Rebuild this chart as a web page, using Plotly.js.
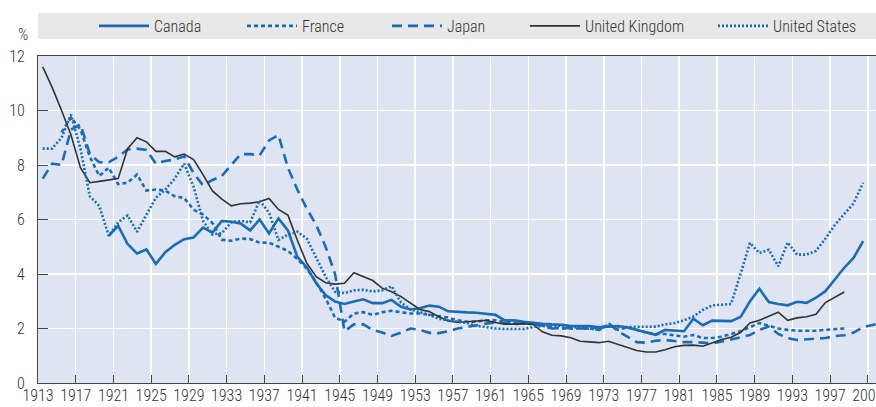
<!DOCTYPE html>
<html>
<head>
<meta charset="utf-8">
<script src="https://cdn.plot.ly/plotly-3.0.1.min.js"></script>
<style>html,body{margin:0;padding:0;background:#fff}#chart{width:876px;height:407px}</style>
</head>
<body>
<div id="chart"></div>
<script>
// ---- data ----
const seriesNames = ["Canada", "France", "Japan", "United Kingdom", "United States"];
const tickLabels = ["1913","1917","1921","1925","1929","1933","1937","1941","1945","1949","1953","1957","1961","1965","1969","1973","1977","1981","1985","1989","1993","1997","2001"];

const canadaStart = 1920;
const canadaValues = [
  5.4, 5.77, 5.1, 4.75, 4.9, 4.37, 4.8, 5.07, 5.28, 5.34,
  5.7, 5.52, 5.95, 5.92, 5.85, 5.6, 6.0, 5.49, 6.04, 5.6,
  4.63, 4.25, 3.66, 3.23, 2.99, 2.9, 2.99, 3.07, 2.93, 2.93,
  3.05, 2.8, 2.7, 2.74, 2.84, 2.8, 2.63, 2.6, 2.59, 2.58,
  2.55, 2.5, 2.3, 2.3, 2.25, 2.2, 2.17, 2.15, 2.14, 2.09,
  2.09, 2.09, 2.04, 2.06, 2.09, 2.04, 1.95, 1.85, 1.77, 1.95,
  1.92, 1.9, 2.36, 2.12, 2.29, 2.27, 2.27, 2.42, 3.0, 3.46,
  2.97, 2.9, 2.85, 2.98, 2.94, 3.13, 3.37, 3.8, 4.23, 4.6,
  5.21
];

const franceStart = 1915;
const franceValues = [
  9.2, 9.75, 9.3, 8.3, 7.6,
  7.9, 7.3, 7.35, 7.65, 7.06, 7.1, 7.06, 6.85, 6.79, 6.36,
  6.18, 5.87, 5.26, 5.22, 5.3, 5.28, 5.15, 5.15, 5.0, 4.85,
  4.55, 4.2, 3.7, 3.1, 2.4, 2.25, 2.55, 2.6, 2.5, 2.6,
  2.65, 2.6, 2.55, 2.55, 2.5, 2.45, 2.4, 2.3, 2.25, 2.25,
  2.3, 2.3, 2.25, 2.2, 2.2, 2.15, 2.1, 2.05, 2.0, 2.0,
  2.0, 2.0, 1.95, 2.15, 1.95, 2.05, 1.95, 1.85, 1.8, 1.8,
  1.75, 1.7, 1.76, 1.65, 1.65, 1.7, 1.8, 1.9, 2.05, 2.2,
  2.1, 2.0, 1.95, 1.92, 1.92, 1.92, 1.95, 1.98, 2.0
];

const japanStart = 1913;
const japanValues = [
  7.5, 8.05, 8.0, 9.3, 9.5, 8.4, 8.1,
  8.1, 8.3, 8.57, 8.6, 8.55, 8.05, 8.15, 8.2, 8.32, 7.7,
  7.25, 7.45, 7.6, 8.0, 8.4, 8.4, 8.35, 8.9, 9.1, 7.9,
  7.1, 6.4, 5.8, 5.0, 4.0, 1.9, 2.15, 2.15, 1.95, 1.85,
  1.73, 1.85, 2.0, 1.95, 1.84, 1.83, 1.9, 2.0, 2.07, 2.12,
  2.18, 2.22, 2.2, 2.15, 2.2, 2.2, 2.1, 2.0, 2.02, 2.0,
  2.0, 2.0, 1.95, 2.2, 1.9, 1.7, 1.5, 1.48, 1.55, 1.58,
  1.55, 1.5, 1.5, 1.48, 1.46, 1.52, 1.6, 1.68, 1.76, 1.95,
  2.07, 1.8, 1.65, 1.58, 1.6, 1.61, 1.65, 1.72, 1.75, 1.85,
  2.05, 2.13, 2.2
];

const ukStart = 1913;
const ukValues = [
  11.6, 10.85, 10.0, 9.1, 7.9, 7.35, 7.4,
  7.45, 7.5, 8.6, 9.0, 8.85, 8.5, 8.5, 8.3, 8.4, 8.2,
  7.65, 7.05, 6.75, 6.5, 6.58, 6.6, 6.65, 6.77, 6.37, 6.16,
  5.24, 4.4, 3.9, 3.68, 3.63, 3.66, 4.05, 3.9, 3.76, 3.48,
  3.35, 3.17, 2.93, 2.7, 2.62, 2.43, 2.28, 2.23, 2.25, 2.28,
  2.3, 2.22, 2.16, 2.16, 2.18, 2.15, 1.88, 1.75, 1.73, 1.66,
  1.53, 1.51, 1.48, 1.53, 1.42, 1.3, 1.19, 1.14, 1.14, 1.22,
  1.33, 1.38, 1.39, 1.35, 1.47, 1.6, 1.68, 1.85, 2.2, 2.3,
  2.45, 2.6, 2.3, 2.39, 2.43, 2.52, 2.95, 3.13, 3.34
];

const usStart = 1913;
const usValues = [
  8.6, 8.6, 9.0, 9.85, 8.6, 6.85, 6.5,
  5.4, 5.9, 6.15, 5.55, 6.2, 6.8, 7.1, 7.5, 8.05, 7.2,
  5.95, 5.45, 5.5, 5.9, 5.95, 5.9, 6.7, 6.25, 5.25, 5.45,
  5.55, 5.3, 4.6, 3.9, 3.35, 3.3, 3.4, 3.42, 3.36, 3.4,
  3.55, 2.95, 2.7, 2.6, 2.5, 2.35, 2.3, 2.25, 2.2, 2.1,
  2.05, 2.0, 1.98, 1.97, 1.98, 2.05, 2.1, 2.1, 2.1, 2.05,
  2.05, 2.0, 2.05, 2.1, 2.05, 2.05, 2.07, 2.05, 2.07, 2.15,
  2.2, 2.3, 2.44, 2.68, 2.85, 2.87, 2.9, 4.0, 5.14, 4.77,
  4.89, 4.28, 5.16, 4.71, 4.71, 4.85, 5.3, 5.8, 6.2, 6.6,
  7.35
];

// ---- chart ----
function yearsFrom(start, n) { const a = []; for (let i = 0; i < n; i++) a.push(start + i); return a; }

const BLUE = "#1a6db5";
const FONT = "Roboto Condensed, Liberation Sans Narrow, Arial Narrow, sans-serif";
const FW = 300;
const W = 876, L = 38, PW = W - L, T = 56, PH = 327;
const px2x = p => (p - L) / PW;
const py2y = p => 1 + (T - p) / PH;

const defs = [
  {name: seriesNames[0], start: canadaStart, vals: canadaValues, line: {color: BLUE, width: 2.6, dash: "solid"}, legend: "legend",  lx: 99},
  {name: seriesNames[1], start: franceStart, vals: franceValues, line: {color: BLUE, width: 2.6, dash: "4px,3px"}, legend: "legend2", lx: 247},
  {name: seriesNames[2], start: japanStart,  vals: japanValues,  line: {color: BLUE, width: 2.6, dash: "10px,6px"}, legend: "legend3", lx: 392},
  {name: seriesNames[3], start: ukStart,     vals: ukValues,     line: {color: "#333333", width: 1.6, dash: "solid"}, legend: "legend4", lx: 530},
  {name: seriesNames[4], start: usStart,     vals: usValues,     line: {color: BLUE, width: 2.6, dash: "2px,2px"}, legend: "legend5", lx: 718}
];

const traces = defs.map(d => ({
  type: "scatter", mode: "lines", name: d.name,
  x: yearsFrom(d.start, d.vals.length), y: d.vals,
  line: d.line, legend: d.legend, hoverinfo: "skip"
}));

const tickVals = tickLabels.map(t => Number(t) - 0.5);
const tf = {family: FONT, size: 16, color: "#333", weight: FW};

const layout = {
  width: 876, height: 407,
  margin: {l: L, r: 0, t: T, b: 24, pad: 0},
  paper_bgcolor: "#ffffff",
  plot_bgcolor: "#dfe4f2",
  font: tf,
  showlegend: true,
  xaxis: {
    range: [1912.5, 1912.5 + PW / 9.43],
    tickmode: "array", tickvals: tickVals, ticktext: tickLabels,
    ticks: "inside", ticklen: 8, tickcolor: "#444", tickwidth: 1,
    showgrid: true, gridcolor: "#ffffff", gridwidth: 1.5,
    showline: true, linecolor: "#444", linewidth: 1, mirror: true,
    zeroline: false, fixedrange: true, ticklabeloverflow: "allow",
    ticklabelstandoff: -2,
    tickfont: tf
  },
  yaxis: {
    range: [0, 12], tickmode: "array", tickvals: [0,2,4,6,8,10,12],
    ticks: "inside", ticklen: 10, tickcolor: "#444", tickwidth: 1,
    showgrid: true, gridcolor: "#ffffff", gridwidth: 1.5,
    showline: true, linecolor: "#444", linewidth: 1,
    zeroline: false, fixedrange: true, ticklabelstandoff: 9,
    tickfont: tf
  },
  shapes: [{
    type: "rect", xref: "paper", yref: "paper",
    x0: 0, x1: 1.01, y0: py2y(39), y1: py2y(13),
    fillcolor: "#e8e8e8", line: {width: 0}, layer: "below"
  }],
  annotations: [{
    text: "%", xref: "paper", yref: "paper", x: px2x(23), y: py2y(34),
    xanchor: "center", yanchor: "middle", showarrow: false,
    font: tf
  }]
};

defs.forEach(d => {
  layout[d.legend] = {
    x: px2x(d.lx - 5), y: py2y(26), xanchor: "left", yanchor: "middle",
    xref: "paper", yref: "paper", orientation: "h",
    bgcolor: "rgba(0,0,0,0)", borderwidth: 0, itemwidth: 50,
    font: tf, itemclick: false, itemdoubleclick: false
  };
});

Plotly.newPlot("chart", traces, layout, {displayModeBar: false, staticPlot: true});
</script>
</body>
</html>
